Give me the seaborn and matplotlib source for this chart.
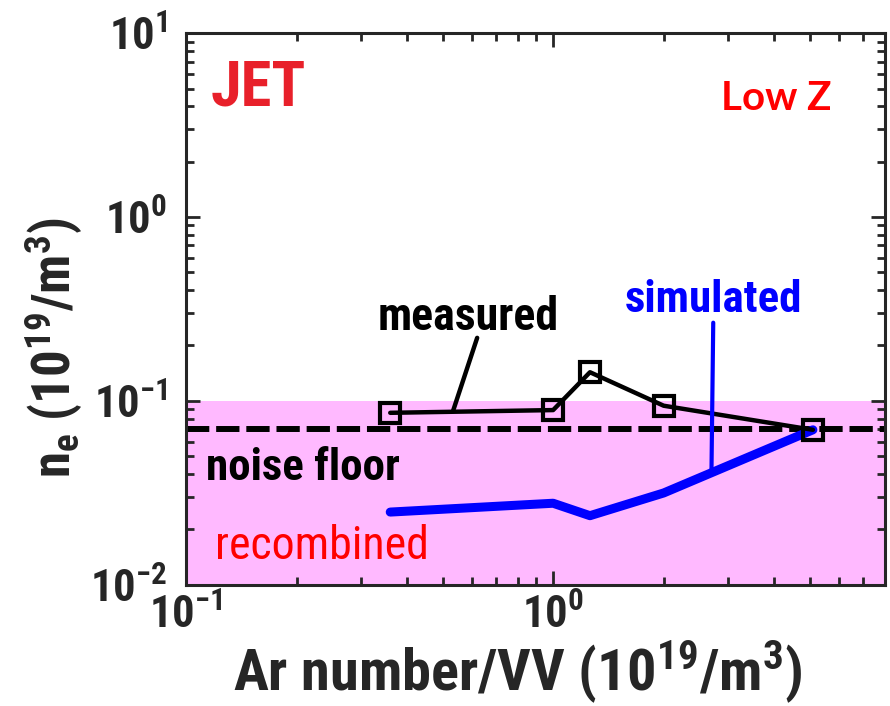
import numpy as np
import pandas as pd
import matplotlib
matplotlib.use("Agg")
import matplotlib.pyplot as plt
from matplotlib import font_manager as fm
import matplotlib.ticker as mticker
import seaborn as sns

# ---- data ----
ar_number = [0.36, 1.0, 1.26, 2.0, 5.1]          # Ar number / VV (1e19 m^-3)
ne_measured = [0.086, 0.089, 0.143, 0.094, 0.0695]
ne_simulated = [0.0248, 0.0277, 0.0237, 0.0315, 0.0695]
noise_floor = 0.070
recombined_band = [0.01, 0.1]
x_limits = [0.1, 8.0]
y_limits = [0.01, 10.0]

sns.set_style("ticks")
names = {f.name for f in fm.fontManager.ttflist}
main_font = "Liberation Sans"
narrow = False
for cand in ["Roboto Condensed", "Liberation Sans Narrow", "Arial Narrow",
             "Open Sans Condensed", "Nimbus Sans Narrow"]:
    if cand in names:
        main_font = cand
        narrow = True
        break
plt.rcParams["font.family"] = [main_font, "DejaVu Sans"]
plt.rcParams["mathtext.default"] = "regular"
plt.rcParams["font.weight"] = "bold"

k = 1.0 if narrow else 0.83   # shrink if only a wide face is available

fig = plt.figure(figsize=(8.9, 7.06), dpi=100)
ax = fig.add_axes([0.209, 0.172, 0.785, 0.781])

ax.set_xscale("log")
ax.set_yscale("log")
ax.set_xlim(*x_limits)
ax.set_ylim(*y_limits)

ax.axhspan(recombined_band[0], recombined_band[1], color="#FFB9FF", lw=0, zorder=0)
ax.axhline(noise_floor, color="black", linewidth=4.3, dashes=(3.9, 1.15), zorder=2)

df = pd.DataFrame({"x": ar_number, "measured": ne_measured, "simulated": ne_simulated})
sns.lineplot(data=df, x="x", y="simulated", ax=ax, color="#0000FF", linewidth=6.5, zorder=3,
             estimator=None, sort=False)
sns.lineplot(data=df, x="x", y="measured", ax=ax, color="black", linewidth=3.2, zorder=4,
             marker="s", markersize=14, markerfacecolor="none", markeredgecolor="black",
             markeredgewidth=3.0, estimator=None, sort=False)

# annotation pointers
ax.plot([0.621, 0.534], [0.220, 0.0882], color="black", linewidth=3.2, zorder=4)
ax.plot([2.73, 2.70], [0.266, 0.042], color="#0000FF", linewidth=3.0, zorder=4)

def tx(px, py, s, **kw):
    fig.text(px / 890, 1 - py / 706, s, ha="center", va="center", **kw)

tx(258, 88, "JET", color="#E8202A", fontsize=45 * k, fontweight="bold")
tx(776, 99, "Low Z", color="#FF0000", fontsize=29, fontweight="bold",
   family=["Lato", "DejaVu Sans"])
tx(468, 317, "measured", color="black", fontsize=33 * k, fontweight="bold")
tx(714, 300, "simulated", color="#0000FF", fontsize=32.4 * k, fontweight="bold")
tx(303, 468, "noise floor", color="black", fontsize=32.4 * k, fontweight="bold")
tx(322, 546, "recombined", color="#FF0000", fontsize=33 * k, fontweight="normal")

ax.set_xlabel(r"Ar number/VV (10$^{19}$/m$^{3}$)", fontsize=42 * k, fontweight="bold")
ax.set_ylabel(r"n$_{e}$ (10$^{19}$/m$^{3}$)", fontsize=38 * k, fontweight="bold")
ax.xaxis.label.set_va("center")
ax.yaxis.label.set_va("center")
ax.xaxis.set_label_coords(0.475, -0.158)
ax.yaxis.set_label_coords(-0.19, 0.43)

ax.xaxis.set_major_locator(mticker.LogLocator(base=10, numticks=10))
ax.yaxis.set_major_locator(mticker.LogLocator(base=10, numticks=10))
ax.xaxis.set_minor_locator(mticker.LogLocator(base=10, subs=np.arange(2, 10), numticks=20))
ax.yaxis.set_minor_locator(mticker.LogLocator(base=10, subs=np.arange(2, 10), numticks=20))
ax.tick_params(which="both", direction="in", top=True, right=True, width=2)
ax.tick_params(which="major", length=10, labelsize=32 * k)
ax.tick_params(axis="y", which="major", pad=13.5)
ax.tick_params(axis="x", which="major", pad=7)
ax.tick_params(which="minor", length=6)
for s in ax.spines.values():
    s.set_linewidth(2.2)
ax.grid(False)

fig.savefig("out.png", dpi=100)
